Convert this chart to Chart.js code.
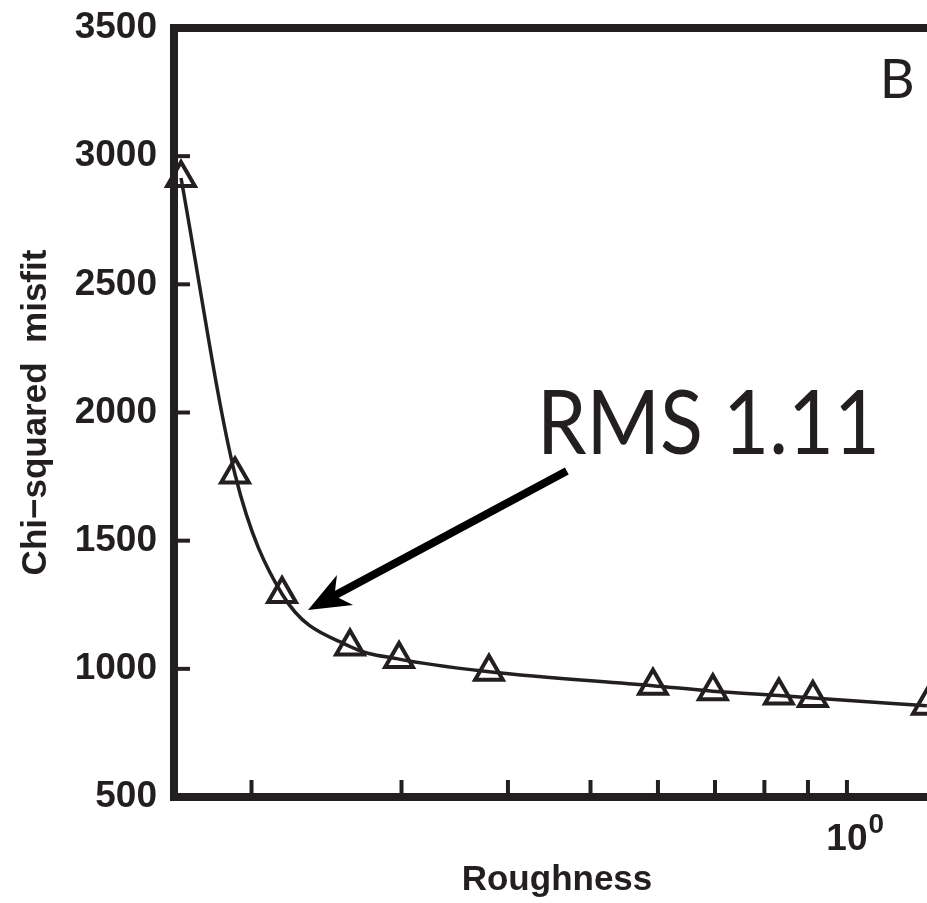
<!DOCTYPE html>
<html><head><meta charset="utf-8">
<script src="https://cdn.jsdelivr.net/npm/chart.js@4/dist/chart.umd.min.js"></script>
<style>
html,body{margin:0;padding:0;background:#fff;overflow:hidden;width:927px;height:903px;}
#wrap{width:927px;height:903px;position:relative;overflow:hidden;}
canvas{display:block;}
</style></head><body>
<div id="wrap"><canvas id="c" width="960" height="903"></canvas></div>
<script>
// ---- data ----
const roughness  = [0.1653, 0.1913, 0.2172, 0.261, 0.298, 0.380, 0.592, 0.696, 0.832, 0.912, 1.241];
const chiSquared = [2915, 1758, 1292, 1087, 1038, 989, 934, 913, 896, 886, 856];
const xMinorTicks = [0.2, 0.3, 0.4, 0.5, 0.6, 0.7, 0.8, 0.9, 1.0];
const xLabelTick = 1;
const yMin = 500, yMax = 3500, yStep = 500;
const xMin = 0.1622, xMax = 1.286;
const annotationText = 'RMS 1.11';
const panelLetter = 'B';
// annotation anchors in data space
const arrowTail = {x: 0.469, y: 1772};
const arrowTip  = {x: 0.233, y: 1230};
const rmsLeft   = {x: 0.4326, y: 1838};
const rmsRight  = {x: 1.093};
const letterPos = {x: 1.093, y: 3225};

const INK = '#231f20';
const TICKFONT = 'bold 37px "Liberation Sans", Arial, sans-serif';

const decor = {
  id: 'decor',
  beforeDatasetsDraw(chart) {
    const {ctx, chartArea: a, scales: {x, y}} = chart;
    ctx.save();
    ctx.strokeStyle = INK;
    ctx.lineWidth = 8;
    ctx.strokeRect(a.left, a.top, a.right - a.left, a.bottom - a.top);
    ctx.lineWidth = 4;
    y.ticks.forEach(t => {
      if (t.value <= yMin || t.value >= yMax) return;
      const py = y.getPixelForValue(t.value);
      ctx.beginPath(); ctx.moveTo(a.left, py); ctx.lineTo(a.left + 16, py); ctx.stroke();
    });
    xMinorTicks.forEach(v => {
      const px = x.getPixelForValue(v);
      ctx.beginPath(); ctx.moveTo(px, a.bottom); ctx.lineTo(px, a.bottom - 17); ctx.stroke();
    });
    ctx.restore();
  },
  afterDraw(chart) {
    const {ctx, chartArea: a, scales: {x, y}} = chart;
    ctx.save();
    ctx.fillStyle = INK;
    // 10^0 label
    const px = x.getPixelForValue(xLabelTick);
    ctx.font = TICKFONT;
    ctx.textBaseline = 'alphabetic';
    ctx.textAlign = 'center';
    ctx.fillText('10', px, a.bottom + 53);
    const w10 = ctx.measureText('10').width;
    ctx.font = 'bold 28px "Liberation Sans", Arial, sans-serif';
    ctx.textAlign = 'left';
    ctx.fillText('0', px + w10 / 2 + 1, a.bottom + 36);

    // panel letter
    ctx.font = '400 54px Lato, "Open Sans", sans-serif';
    ctx.textAlign = 'left';
    ctx.fillText(panelLetter, x.getPixelForValue(letterPos.x), y.getPixelForValue(letterPos.y));

    // RMS text, fitted between two anchors
    ctx.font = '400 90px Lato, "Open Sans", sans-serif';
    const lx = x.getPixelForValue(rmsLeft.x), rx = x.getPixelForValue(rmsRight.x);
    const tw = ctx.measureText(annotationText).width;
    ctx.translate(lx, y.getPixelForValue(rmsLeft.y));
    ctx.scale((rx - lx) / tw, 1);
    ctx.fillText(annotationText, 0, 0);
    ctx.setTransform(1, 0, 0, 1, 0, 0);

    // arrow
    const tx = x.getPixelForValue(arrowTail.x), ty = y.getPixelForValue(arrowTail.y);
    const hx = x.getPixelForValue(arrowTip.x),  hy = y.getPixelForValue(arrowTip.y);
    const ang = Math.atan2(hy - ty, hx - tx);
    const headLen = 42, headHalf = 17;
    const bx = hx - Math.cos(ang) * headLen, by = hy - Math.sin(ang) * headLen;
    ctx.strokeStyle = '#000';
    ctx.lineWidth = 8;
    ctx.lineCap = 'butt';
    ctx.beginPath(); ctx.moveTo(tx, ty); ctx.lineTo(hx - Math.cos(ang) * 25, hy - Math.sin(ang) * 25); ctx.stroke();
    ctx.fillStyle = '#000';
    const nx = -Math.sin(ang), ny = Math.cos(ang);
    const nbx = hx - Math.cos(ang) * 30, nby = hy - Math.sin(ang) * 30;
    ctx.beginPath();
    ctx.moveTo(hx, hy);
    ctx.lineTo(bx + nx * headHalf, by + ny * headHalf);
    ctx.lineTo(nbx, nby);
    ctx.lineTo(bx - nx * headHalf, by - ny * headHalf);
    ctx.closePath();
    ctx.fill();
    ctx.restore();
  }
};

new Chart(document.getElementById('c'), {
  type: 'line',
  data: {
    datasets: [{
      data: roughness.map((r, i) => ({x: r, y: chiSquared[i]})),
      borderColor: INK,
      borderWidth: 3.5,
      cubicInterpolationMode: 'monotone',
      pointStyle: 'triangle',
      pointRadius: 16,
      pointHoverRadius: 16,
      pointBorderWidth: 4,
      pointBorderColor: INK,
      pointBackgroundColor: 'rgba(0,0,0,0)',
      fill: false,
      clip: false
    }]
  },
  options: {
    responsive: false,
    devicePixelRatio: 1,
    animation: false,
    events: [],
    layout: {padding: {top: 28, right: 20, left: 0, bottom: 0}},
    plugins: {legend: {display: false}, tooltip: {enabled: false}},
    scales: {
      x: {
        type: 'logarithmic',
        min: xMin, max: xMax,
        grid: {display: false, drawTicks: false},
        border: {display: false},
        ticks: {display: false},
        title: {display: true, text: 'Roughness', color: INK,
                font: {family: '"Liberation Sans", Arial, sans-serif', weight: 'bold', size: 35, lineHeight: 1.2},
                padding: {top: 0, bottom: 2}},
        afterFit(s) { s.height = 106; }
      },
      y: {
        type: 'linear',
        min: yMin, max: yMax,
        grid: {display: false, drawTicks: false},
        border: {display: false},
        ticks: {stepSize: yStep, color: INK, padding: 17,
                font: {family: '"Liberation Sans", Arial, sans-serif', weight: 'bold', size: 37, lineHeight: 0.5},
                callback: v => String(v)},
        title: {display: true, text: 'Chi\u2212squared  misfit', color: INK,
                font: {family: '"Liberation Sans", Arial, sans-serif', weight: 'bold', size: 35, lineHeight: 1.2},
                padding: {top: 15, bottom: 0}},
        afterFit(s) { s.width = 174; }
      }
    }
  },
  plugins: [decor]
});
</script>
</body></html>
